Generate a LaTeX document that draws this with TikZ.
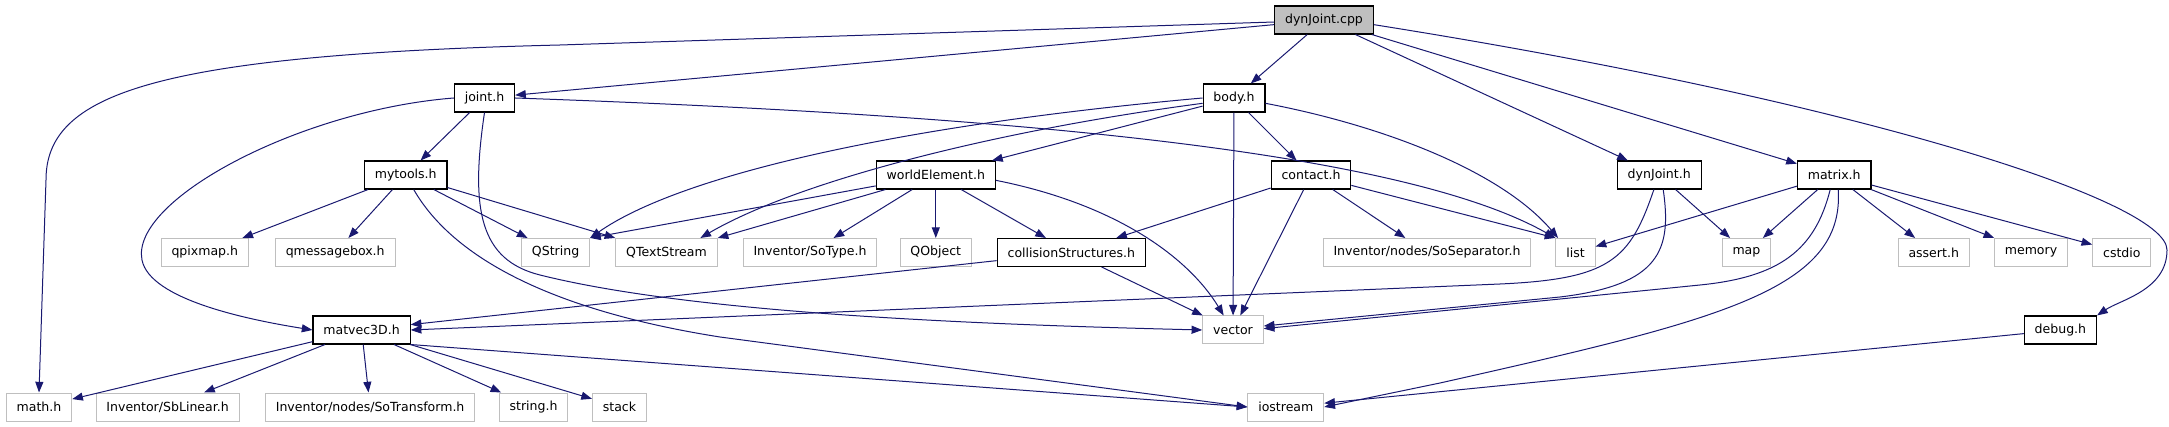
\documentclass[tikz,border=0pt]{standalone}
\usepackage{fontspec}
\setmainfont{DejaVu Sans}
\usepackage{tikz}
\usetikzlibrary{arrows.meta}
\definecolor{edgeblue}{HTML}{191970}
\definecolor{grey75}{HTML}{BFBFBF}

\begin{document}
\begin{tikzpicture}[x=0.75pt, y=-0.75pt,
    every node/.style={font=\fontsize{9.4pt}{11pt}\selectfont, inner xsep=7.8pt, inner ysep=0pt, minimum height=21pt},
    mainfile/.style={draw=black, line width=0.8pt, fill=grey75},
    docfile/.style={draw=black, line width=0.8pt, fill=white},
    extfile/.style={draw=grey75, line width=0.75pt, fill=white},
    incl/.style={draw=edgeblue, line width=0.75pt, -{Triangle[length=8pt,width=6pt]}}]
    \useasboundingbox (0,0) rectangle (2169,427);

    \node[mainfile] (cpp) at (1324,20) {dynJoint.cpp};
    \node[docfile] (jointh) at (484.5,98) {joint.h};
    \node[docfile] (bodyh) at (1234,98) {body.h};
    \node[docfile] (mytools) at (405.7,175) {mytools.h};
    \node[docfile] (worldel) at (935.8,175) {worldElement.h};
    \node[docfile] (contacth) at (1311,175) {contact.h};
    \node[docfile] (dynjointh) at (1659.2,175) {dynJoint.h};
    \node[docfile] (matrixh) at (1834.2,175) {matrix.h};
    \node[extfile] (qpixmap) at (204.8,252.5) {qpixmap.h};
    \node[extfile] (qmsgbox) at (335.2,252.5) {qmessagebox.h};
    \node[extfile] (qstring) at (555.6,252.5) {QString};
    \node[extfile] (qtextstream) at (666.5,252.5) {QTextStream};
    \node[extfile] (sotype) at (810,252.5) {Inventor/SoType.h};
    \node[extfile] (qobject) at (935.8,252.5) {QObject};
    \node[docfile] (collision) at (1071.3,252.5) {collisionStructures.h};
    \node[extfile] (sosep) at (1427,252.5) {Inventor/nodes/SoSeparator.h};
    \node[extfile] (list) at (1575.5,252.5) {list};
    \node[extfile] (map) at (1746.4,252.5) {map};
    \node[extfile] (asserth) at (1933.7,252.5) {assert.h};
    \node[extfile] (memory) at (2031,252.5) {memory};
    \node[extfile] (cstdio) at (2121.8,252.5) {cstdio};
    \node[docfile] (matvec) at (361.6,330) {matvec3D.h};
    \node[extfile] (vector) at (1233,330) {vector};
    \node[docfile] (debugh) at (2060.4,330) {debug.h};
    \node[extfile] (mathh) at (39,407) {math.h};
    \node[extfile] (sblinear) at (167.6,407) {Inventor/SbLinear.h};
    \node[extfile] (sotransform) at (370.1,407) {Inventor/nodes/SoTransform.h};
    \node[extfile] (stringh) at (533.6,407) {string.h};
    \node[extfile] (stack) at (619.5,407) {stack};
    \node[extfile] (iostream) at (1285.8,407) {iostream};

    % dynJoint.cpp
    \draw[incl] (cpp) -- (jointh);
    \draw[incl] ([yshift=-1.5pt]cpp.west) -- (560,45) .. controls (150,55) and (46,95) .. (46,180) -- (mathh.north);
    \draw[incl] (cpp) -- (bodyh);
    \draw[incl] (cpp) -- (dynjointh);
    \draw[incl] (cpp) -- (matrixh);
    \draw[incl] ([yshift=-3.5pt]cpp.east) .. controls (1850,100) and (2167,200) .. (2167,250)
        .. controls (2167,290) and (2120,300) .. (debugh.north east);

    % joint.h
    \draw[incl] (jointh) -- (mytools);
    \draw[incl] (jointh.west) .. controls (300,110) and (130,200) .. (142,260)
        .. controls (150,300) and (250,320) .. (matvec.west);
    \draw[incl] (jointh.south) .. controls (470,210) and (480,260) .. (540,275)
        .. controls (700,315) and (1000,325) .. (vector.west);
    \draw[incl] (jointh.east) .. controls (1000,115) and (1400,150) .. (list.north west);

    % mytools.h
    \draw[incl] (mytools) -- (qpixmap);
    \draw[incl] (mytools) -- (qmsgbox);
    \draw[incl] (mytools) -- (qstring);
    \draw[incl] (mytools) -- (qtextstream.north west);
    \draw[incl] ([xshift=6pt]mytools.south) .. controls (460,270) and (580,315) .. (720,337) -- (iostream.west);

    % body.h
    \draw[incl] (bodyh.west) .. controls (900,125) and (680,175) .. (qstring.north east);
    \draw[incl] ([yshift=-4pt]bodyh.west) .. controls (1000,130) and (800,180) .. ([xshift=-13pt]qtextstream.north east);
    \draw[incl] (bodyh) -- (worldel);
    \draw[incl] (bodyh) -- (vector);
    \draw[incl] (bodyh) -- (contacth);
    \draw[incl] ([yshift=-4pt]bodyh.east) .. controls (1380,125) and (1500,170) .. ([xshift=2pt]list.north west);

    % worldElement.h
    \draw[incl] (worldel) -- (qstring.north east);
    \draw[incl] (worldel) -- (qtextstream.north east);
    \draw[incl] (worldel) -- (sotype);
    \draw[incl] (worldel) -- (qobject);
    \draw[incl] (worldel) -- (collision);
    \draw[incl] ([yshift=-4pt]worldel.east) .. controls (1120,205) and (1190,260) .. ([xshift=-7pt]vector.north);

    % contact.h
    \draw[incl] (contacth) -- (collision);
    \draw[incl] (contacth) -- (vector);
    \draw[incl] (contacth) -- (sosep);
    \draw[incl] (contacth) -- (list.north west);

    % collisionStructures.h
    \draw[incl] (collision) -- (matvec);
    \draw[incl] (collision) -- (vector);

    % matvec3D.h
    \draw[incl] (matvec) -- (mathh);
    \draw[incl] (matvec) -- (sblinear);
    \draw[incl] (matvec) -- (sotransform);
    \draw[incl] (matvec) -- (stringh);
    \draw[incl] (matvec) -- (stack);
    \draw[incl] (matvec.south east) -- (iostream.west);

    % dynJoint.h
    \draw[incl] ([xshift=-4pt]dynjointh.south) .. controls (1630,260) and (1610,279) .. (1500,284) -- (matvec.east);
    \draw[incl] ([xshift=3pt]dynjointh.south) .. controls (1672,250) and (1660,285) .. (1560,297) -- ([yshift=3pt]vector.east);
    \draw[incl] (dynjointh) -- (map);

    % matrix.h
    \draw[incl] (matrixh) -- (list);
    \draw[incl] (matrixh) -- (map);
    \draw[incl] (matrixh) -- (asserth);
    \draw[incl] (matrixh) -- (memory);
    \draw[incl] (matrixh) -- (cstdio);
    \draw[incl] ([xshift=-3pt]matrixh.south) .. controls (1815,250) and (1780,277) .. (1700,285) -- ([yshift=1pt]vector.east);
    \draw[incl] ([xshift=3pt]matrixh.south) .. controls (1845,290) and (1720,320) .. (1440,383) -- (iostream.east);

    % debug.h
    \draw[incl] (debugh) -- (iostream);
\end{tikzpicture}
\end{document}
